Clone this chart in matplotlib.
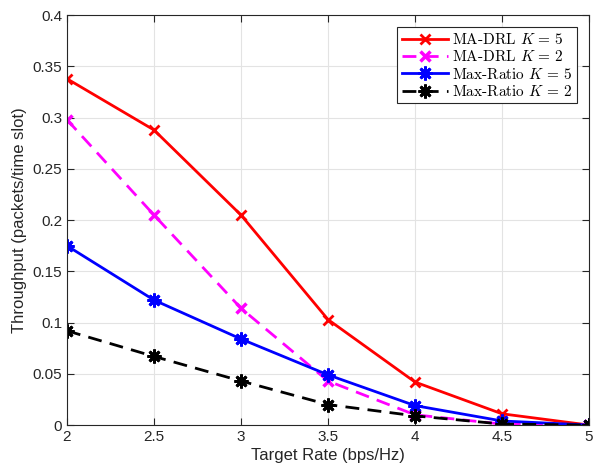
import matplotlib
matplotlib.use("Agg")
import matplotlib.pyplot as plt

rate = [2, 2.5, 3, 3.5, 4, 4.5, 5]
madrl_k5 = [0.338, 0.288, 0.205, 0.103, 0.042, 0.011, 0.0]
madrl_k2 = [0.298, 0.205, 0.114, 0.043, 0.010, 0.001, 0.0]
maxratio_k5 = [0.175, 0.122, 0.084, 0.049, 0.019, 0.004, 0.0]
maxratio_k2 = [0.092, 0.067, 0.043, 0.020, 0.009, 0.001, 0.0]

plt.rcParams['font.family'] = ['Liberation Sans', 'DejaVu Sans']
plt.rcParams['mathtext.fontset'] = 'cm'

fig = plt.figure(figsize=(5.98, 4.76), dpi=100)
ax = fig.add_axes([0.112, 0.107, 0.873, 0.861])

dash = (5, 3)
ax.plot(rate, madrl_k5, color='red', lw=2, marker='x', ms=7, mew=2, label=r'MA-DRL $K\,=\,5$')
ax.plot(rate, madrl_k2, color='magenta', lw=2, dashes=dash, marker='x', ms=7, mew=2.5, label=r'MA-DRL $K\,=\,2$')
ax.plot(rate, maxratio_k5, color='blue', lw=2, marker=(8, 2, 0), ms=10, mew=2, label=r'Max-Ratio $K\,=\,5$')
ax.plot(rate, maxratio_k2, color='black', lw=2, dashes=dash, marker=(8, 2, 0), ms=10, mew=2, label=r'Max-Ratio $K\,=\,2$')

ax.set_xlim(2, 5)
ax.set_ylim(0, 0.4)
ax.set_xticks([2, 2.5, 3, 3.5, 4, 4.5, 5])
ax.set_xticklabels(['2', '2.5', '3', '3.5', '4', '4.5', '5'])
ax.set_yticks([0, 0.05, 0.1, 0.15, 0.2, 0.25, 0.3, 0.35, 0.4])
ax.set_yticklabels(['0', '0.05', '0.1', '0.15', '0.2', '0.25', '0.3', '0.35', '0.4'])
ax.grid(True, color='#e3e3e3', lw=0.8)
ax.set_axisbelow(True)
ax.tick_params(direction='in', top=True, right=True, labelsize=11, colors='#262626', length=5)
for s in ax.spines.values():
    s.set_color('#262626')
    s.set_linewidth(0.8)
ax.set_xlabel('Target Rate (bps/Hz)', fontsize=12, color='#262626', labelpad=3)
ax.set_ylabel('Throughput (packets/time slot)', fontsize=12, color='#262626')

leg = ax.legend(loc='upper right', prop={'family': 'cmr10', 'size': 11}, fancybox=False,
                edgecolor='#262626', framealpha=1, handlelength=3, borderaxespad=0.8,
                labelspacing=0.15, handletextpad=0.3, borderpad=0.3)
leg.get_frame().set_linewidth(0.8)

fig.savefig('out.png', dpi=100)
